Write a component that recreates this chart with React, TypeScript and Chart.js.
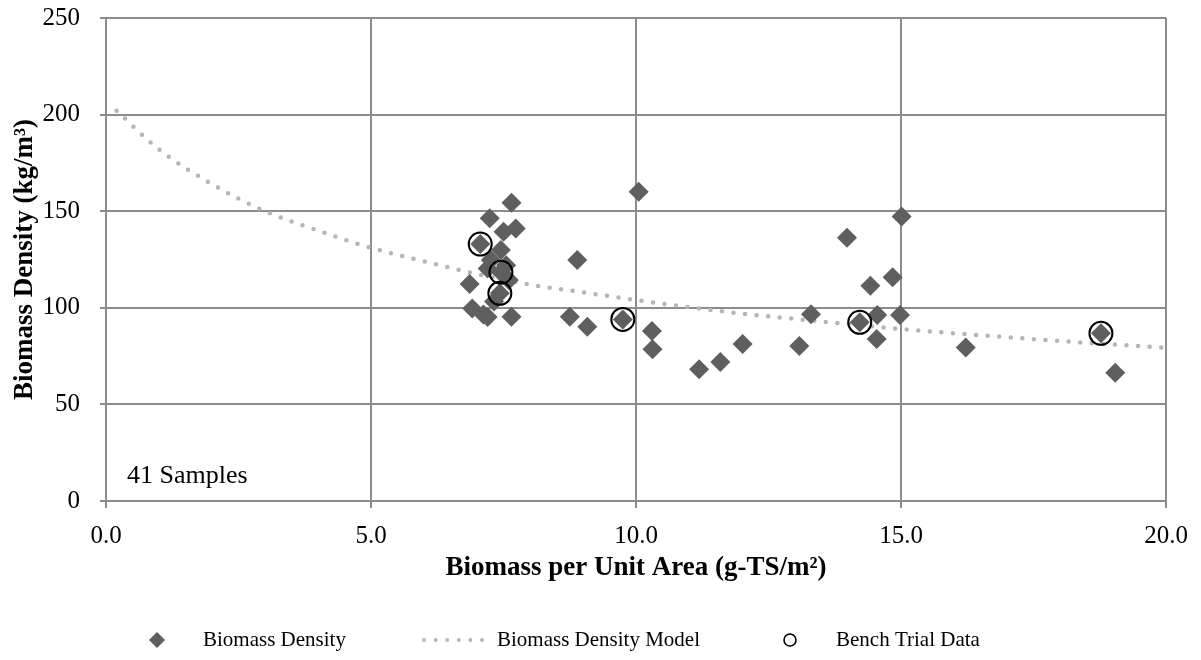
import React, { useEffect, useRef } from 'react';
import { Chart, registerables } from 'chart.js';

Chart.register(...registerables);

// Measured samples: biomass per unit area (g-TS/m²) vs. biomass density (kg/m³)
const sampleArea = [
  7.65, 7.24, 7.5, 7.73, 7.06, 7.45, 7.26, 7.2, 7.45, 7.6,
  6.86, 7.43, 7.32, 6.91, 7.12, 7.2, 7.65, 7.55, 8.89, 8.75,
  9.08, 9.75, 10.05, 10.3, 10.31, 11.19, 11.59, 12.01, 13.08, 13.3,
  14.22, 13.98, 15.01, 14.84, 14.42, 14.55, 14.98, 14.54, 16.22, 18.77,
  19.04,
];
const sampleDensity = [
  154.4, 146.3, 139.4, 141.1, 133.0, 129.9, 124.7, 120.4, 118.4, 114.4,
  112.3, 107.5, 103.2, 99.7, 96.5, 95.3, 95.4, 122.0, 124.7, 95.4,
  90.2, 94.0, 160.1, 88.0, 78.5, 68.2, 71.9, 81.3, 80.2, 96.6,
  92.5, 136.3, 147.2, 115.8, 111.4, 96.3, 96.3, 83.9, 79.4, 86.8,
  66.4,
];

// Samples that were also run in the bench trials
const benchArea = [7.06, 7.45, 7.43, 9.75, 14.22, 18.77];
const benchDensity = [133.0, 118.4, 107.5, 94.0, 92.5, 86.8];

// Density model curve
const modelArea = [0.2, 1, 2, 3, 4, 5, 6, 7, 8, 9, 10, 11, 12, 13, 14, 15, 16, 17, 18, 19, 20];
const modelDensity = [
  202, 182, 164, 150, 140, 131, 124, 117.5, 112, 108,
  104, 100.3, 97, 94.2, 91.6, 89, 86.8, 84.8, 82.8, 81, 79.3,
];

const xRange = [0, 20];
const yRange = [0, 250];
const xStep = 5;
const yStep = 50;

const seriesNames = ['Biomass Density', 'Biomass Density Model', 'Bench Trial Data'];
const sampleNote = '41 Samples';
const xTitle = 'Biomass per Unit Area (g-TS/m²)';
const yTitle = 'Biomass Density (kg/m³)';

const FONT = "'Liberation Serif', 'Times New Roman', serif";
const DIAMOND = '#5f5f5f';
const MODEL = '#b5b5b5';
const GRID = '#8c8c8c';

const zip = (xs: number[], ys: number[]) => xs.map((x, i) => ({ x, y: ys[i] }));

// Legend row and sample-count note drawn on the canvas
const extrasPlugin = {
  id: 'extras',
  afterDraw(chart: any) {
    const { ctx, chartArea } = chart;
    ctx.save();
    // sample count note inside the plot
    ctx.font = `26px ${FONT}`;
    ctx.fillStyle = '#000';
    ctx.textAlign = 'left';
    ctx.textBaseline = 'middle';
    ctx.fillText(sampleNote, chartArea.left + 21, chartArea.bottom - 25);

    // legend
    const ly = chart.height - 20;
    ctx.font = `21px ${FONT}`;
    // diamond marker
    ctx.fillStyle = DIAMOND;
    ctx.beginPath();
    ctx.moveTo(157, ly - 8);
    ctx.lineTo(165, ly);
    ctx.lineTo(157, ly + 8);
    ctx.lineTo(149, ly);
    ctx.closePath();
    ctx.fill();
    ctx.fillStyle = '#000';
    ctx.fillText(seriesNames[0], 203, ly);
    // dotted model sample
    ctx.strokeStyle = MODEL;
    ctx.lineWidth = 4;
    ctx.lineCap = 'round';
    ctx.setLineDash([0, 11.6]);
    ctx.beginPath();
    ctx.moveTo(424, ly);
    ctx.lineTo(488, ly);
    ctx.stroke();
    ctx.setLineDash([]);
    ctx.fillText(seriesNames[1], 497, ly);
    // circle marker
    ctx.strokeStyle = '#000';
    ctx.lineWidth = 1.6;
    ctx.beginPath();
    ctx.arc(790, ly, 6, 0, Math.PI * 2);
    ctx.stroke();
    ctx.fillText(seriesNames[2], 836, ly);
    ctx.restore();
  },
};

export default function App() {
  const canvasRef = useRef<HTMLCanvasElement | null>(null);

  useEffect(() => {
    if (!canvasRef.current) return;
    const chart = new Chart(canvasRef.current, {
      type: 'scatter',
      data: {
        datasets: [
          {
            label: seriesNames[2],
            data: zip(benchArea, benchDensity),
            pointStyle: 'circle',
            pointRadius: 11.5,
            pointHoverRadius: 11.5,
            borderColor: '#000',
            borderWidth: 2,
            backgroundColor: 'rgba(0,0,0,0)',
            order: 1,
          },
          {
            label: seriesNames[0],
            data: zip(sampleArea, sampleDensity),
            pointStyle: 'rectRot',
            pointRadius: 10,
            pointHoverRadius: 10,
            backgroundColor: DIAMOND,
            borderColor: DIAMOND,
            borderWidth: 0,
            order: 2,
          },
          {
            label: seriesNames[1],
            data: zip(modelArea, modelDensity),
            showLine: true,
            pointRadius: 0,
            borderColor: MODEL,
            borderWidth: 4.5,
            borderDash: [0, 11.6],
            borderCapStyle: 'round',
            cubicInterpolationMode: 'monotone',
            order: 3,
          },
        ],
      },
      options: {
        animation: false,
        responsive: true,
        maintainAspectRatio: false,
        layout: { padding: { left: 0, right: 32, top: 18, bottom: 69 } },
        plugins: {
          legend: { display: false },
          tooltip: { enabled: false },
        },
        scales: {
          x: {
            type: 'linear',
            min: xRange[0],
            max: xRange[1],
            ticks: {
              stepSize: xStep,
              color: '#000',
              font: { family: FONT, size: 25 },
              padding: 13,
              callback: (v: any) => Number(v).toFixed(1),
            },
            grid: { color: GRID, lineWidth: 2, tickLength: 7, tickColor: GRID },
            border: { color: GRID, width: 2 },
            title: {
              display: true,
              text: xTitle,
              color: '#000',
              font: { family: FONT, size: 27, weight: 'bold' },
              padding: { top: 0, bottom: 7 },
            },
            afterFit: (scale: any) => {
              scale.height = 90;
            },
          },
          y: {
            type: 'linear',
            min: yRange[0],
            max: yRange[1],
            ticks: {
              stepSize: yStep,
              color: '#000',
              font: { family: FONT, size: 25 },
              padding: 20,
            },
            grid: { color: GRID, lineWidth: 2, tickLength: 6, tickColor: GRID },
            border: { color: GRID, width: 2 },
            title: {
              display: true,
              text: yTitle,
              color: '#000',
              font: { family: FONT, size: 27, weight: 'bold' },
              padding: { top: 9, bottom: 0 },
            },
            afterFit: (scale: any) => {
              scale.width = 106;
              scale.paddingTop = 0;
              scale.paddingBottom = 0;
            },
          },
        },
      },
      plugins: [extrasPlugin],
    });
    return () => chart.destroy();
  }, []);

  return (
    <div style={{ position: 'fixed', left: 0, top: 0, width: 1201, height: 660, background: '#fff' }}>
      <canvas ref={canvasRef} />
    </div>
  );
}
